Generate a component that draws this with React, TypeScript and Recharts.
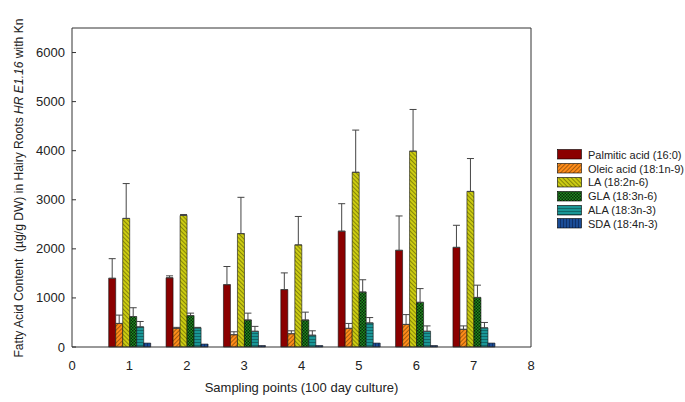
import {
  BarChart, Bar, XAxis, YAxis, ErrorBar, ReferenceLine,
} from "recharts";

// sampling points on the x axis
const points = [1, 2, 3, 4, 5, 6, 7];
const xTicks = [0, 1, 2, 3, 4, 5, 6, 7, 8];
const yTicks = [0, 1000, 2000, 3000, 4000, 5000, 6000];

// fatty acid means (µg/g DW) and upper error
const palmitic = [1400, 1410, 1270, 1170, 2360, 1970, 2030];
const palmiticErr = [400, 40, 370, 340, 560, 700, 450];
const oleic = [480, 380, 250, 270, 380, 460, 360];
const oleicErr = [170, 20, 60, 60, 100, 200, 70];
const la = [2620, 2680, 2310, 2080, 3560, 3990, 3170];
const laErr = [710, 20, 740, 580, 860, 850, 670];
const gla = [620, 640, 550, 550, 1120, 910, 1010];
const glaErr = [180, 50, 140, 160, 250, 280, 250];
const ala = [410, 390, 320, 240, 490, 320, 390];
const alaErr = [110, 10, 100, 90, 110, 110, 110];
const sda = [80, 60, 30, 30, 80, 30, 80];

const series = [
  { key: "palmitic", name: "Palmitic acid (16:0)", fill: "#8B0000", err: true },
  { key: "oleic", name: "Oleic acid (18:1n-9)", fill: "url(#pOleic)", err: true },
  { key: "la", name: "LA (18:2n-6)", fill: "url(#pLa)", err: true },
  { key: "gla", name: "GLA (18:3n-6)", fill: "url(#pGla)", err: true },
  { key: "ala", name: "ALA (18:3n-3)", fill: "url(#pAla)", err: true },
  { key: "sda", name: "SDA (18:4n-3)", fill: "url(#pSda)", err: false },
];

const data = points.map((p, i) => ({
  x: p,
  palmitic: palmitic[i], palmiticErr: [0, palmiticErr[i]],
  oleic: oleic[i], oleicErr: [0, oleicErr[i]],
  la: la[i], laErr: [0, laErr[i]],
  gla: gla[i], glaErr: [0, glaErr[i]],
  ala: ala[i], alaErr: [0, alaErr[i]],
  sda: sda[i],
}));

const FONT = "Arial, 'Liberation Sans', sans-serif";
const AXIS_X = 72;

function Patterns() {
  return (
    <defs>
      <pattern id="pOleic" width="3" height="3" patternUnits="userSpaceOnUse" patternTransform="rotate(45)">
        <rect width="3" height="3" fill="#FF8C1A" />
        <line x1="0" y1="0" x2="0" y2="3" stroke="#3a2000" strokeWidth="0.9" />
      </pattern>
      <pattern id="pLa" width="3" height="3" patternUnits="userSpaceOnUse" patternTransform="rotate(-45)">
        <rect width="3" height="3" fill="#CCCC11" />
        <line x1="0" y1="0" x2="0" y2="3" stroke="#333300" strokeWidth="0.9" />
      </pattern>
      <pattern id="pGla" width="3" height="3" patternUnits="userSpaceOnUse">
        <rect width="3" height="3" fill="#1E8C1E" />
        <rect width="1.5" height="1.5" fill="#0a2a0a" />
        <rect x="1.5" y="1.5" width="1.5" height="1.5" fill="#0a2a0a" />
      </pattern>
      <pattern id="pAla" width="3" height="3" patternUnits="userSpaceOnUse">
        <rect width="3" height="3" fill="#1A9696" />
        <line x1="0" y1="0" x2="3" y2="0" stroke="#043030" strokeWidth="0.9" />
      </pattern>
      <pattern id="pSda" width="3" height="3" patternUnits="userSpaceOnUse">
        <rect width="3" height="3" fill="#1A4C96" />
        <line x1="0" y1="0" x2="0" y2="3" stroke="#041030" strokeWidth="0.9" />
      </pattern>
    </defs>
  );
}

function YTick({ x, y, payload }: { x: number; y: number; payload: { value: number } }) {
  return (
    <g>
      <line x1={AXIS_X} x2={AXIS_X + 4} y1={y} y2={y} stroke="#333" />
      <text x={x} y={y} dy={4.5} textAnchor="end" fontSize={13} fill="#222" fontFamily={FONT}>
        {payload.value}
      </text>
    </g>
  );
}

function YLabel() {
  return (
    <text x={19} y={188} transform="rotate(-90 19 188)" textAnchor="middle" fontSize={12.1}
      fill="#222" fontFamily={FONT} dy={4}>
      Fatty Acid Content {"\u00a0"}(µg/g DW) in Hairy Roots <tspan fontStyle="italic">HR E1.16</tspan> with Kn
    </text>
  );
}

function LegendBox() {
  return (
    <div style={{ position: "absolute", left: 557, top: 148, width: 128,
      fontFamily: FONT, fontSize: 11, color: "#222" }}>
      {series.map((s) => (
        <div key={s.key} style={{ display: "flex", alignItems: "center", height: 13.8 }}>
          <svg width={26} height={11} style={{ marginRight: 5 }}>
            <rect x={0.5} y={0.5} width={24} height={9.5} fill={s.fill} stroke="#000" strokeWidth={0.6} />
          </svg>
          <span>{s.name}</span>
        </div>
      ))}
    </div>
  );
}

export default function App() {
  return (
    <div style={{ position: "absolute", left: 0, top: 0, width: 685, height: 402, background: "#fff" }}>
      <BarChart width={685} height={402} data={data} barGap={0} barCategoryGap={0}
        margin={{ top: 28, right: 154, left: 0, bottom: 0 }}>
        <Patterns />
        <XAxis dataKey="x" type="number" domain={[0, 8]} ticks={xTicks} interval={0}
          height={55} tickLine={false} axisLine={{ stroke: "#333" }} tickMargin={8}
          tick={{ fontSize: 13, fill: "#222", fontFamily: FONT }}
          label={{ value: "Sampling points (100 day culture)", position: "insideBottom", offset: 10,
            fontSize: 13, fill: "#222", fontFamily: FONT }} />
        <YAxis type="number" domain={[0, 6500]} ticks={yTicks} interval={0} width={AXIS_X}
          tickLine={false} tickSize={0} tickMargin={7} axisLine={{ stroke: "#333" }}
          tick={(props: any) => <YTick {...props} />}
          label={{ content: () => <YLabel /> }} />
        <ReferenceLine y={6500} stroke="#333" />
        <ReferenceLine x={8} stroke="#333" />
        {series.map((s) => (
          <Bar key={s.key} dataKey={s.key} name={s.name} fill={s.fill} stroke="#111" strokeWidth={0.6}
            barSize={7} isAnimationActive={false}>
            {s.err && (
              <ErrorBar dataKey={`${s.key}Err`} width={3.5} stroke="#444" strokeWidth={1}
                direction="y" isAnimationActive={false} />
            )}
          </Bar>
        ))}
      </BarChart>
      <LegendBox />
    </div>
  );
}
